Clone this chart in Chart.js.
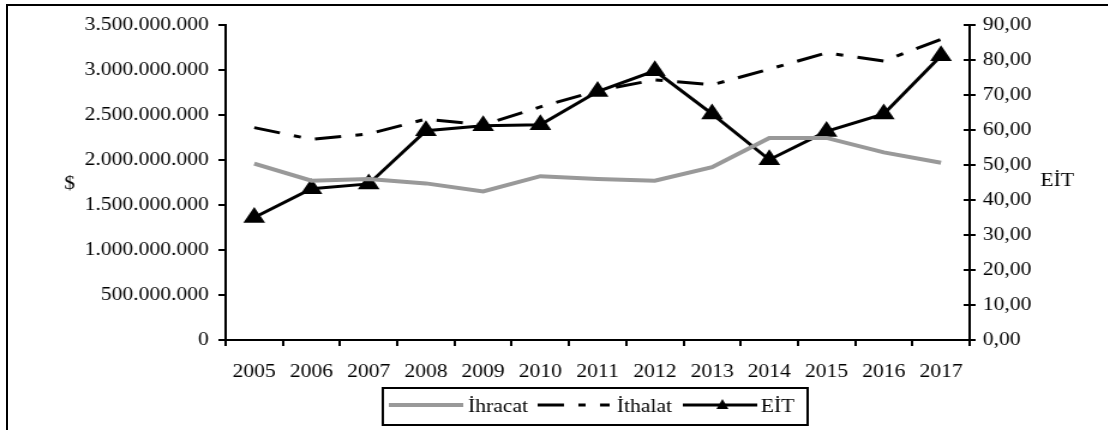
<!DOCTYPE html>
<html>
<head>
<meta charset="utf-8">
<script src="https://cdn.jsdelivr.net/npm/chart.js@4"></script>
<style>
	html, body { margin: 0; padding: 0; background: #fff; overflow: hidden; }
	#frame { position: absolute; left: 6px; top: 4px; width: 1200px; height: 500px;
		border-top: 2px solid #000; border-left: 2px solid #000; }
	#chart { position: absolute; left: 0; top: 0; transform: scaleX(1.2); transform-origin: 0 0; }
</style>
</head>
<body>
<div id="frame"></div>
<canvas id="chart" width="923" height="430"></canvas>
<script>
const years = ['2005', '2006', '2007', '2008', '2009', '2010', '2011', '2012', '2013', '2014', '2015', '2016', '2017'];
const ihracat = [1960000000, 1770000000, 1790000000, 1740000000, 1650000000, 1820000000, 1790000000, 1770000000, 1920000000, 2245000000, 2245000000, 2085000000, 1970000000];
const ithalat = [2360000000, 2230000000, 2290000000, 2455000000, 2390000000, 2590000000, 2770000000, 2890000000, 2835000000, 3010000000, 3190000000, 3100000000, 3340000000];
const eit = [35.0, 43.2, 44.6, 59.8, 61.2, 61.5, 71.0, 76.9, 64.6, 51.5, 59.6, 64.6, 81.2];

const FONT = "'Liberation Serif', 'Times New Roman', serif";
const DASH = [22, 12, 6, 12];

function dotted(v){
	return String(v).replace(/\B(?=(\d{3})+(?!\d))/g, '.');
}

// titles, crossing ticks on the right axis and the boxed legend
const extras = {
	id: 'extras',
	afterDraw(chart){
		const ctx = chart.ctx;
		const yr = chart.scales.y1;
		ctx.save();
		ctx.strokeStyle = '#000';
		ctx.lineWidth = 2;
		ctx.beginPath();
		yr.ticks.forEach(function(t){
			const py = yr.getPixelForValue(t.value);
			ctx.moveTo(yr.left - 5, py);
			ctx.lineTo(yr.left, py);
		});
		ctx.stroke();

		ctx.fillStyle = '#000';
		ctx.font = '18px ' + FONT;
		ctx.textBaseline = 'middle';
		ctx.textAlign = 'center';
		ctx.fillText('$', 58, 184);
		ctx.fillText('EİT', 881, 181);

		// legend
		ctx.lineWidth = 2;
		ctx.strokeRect(319, 388, 354, 37);
		ctx.textAlign = 'left';
		ctx.textBaseline = 'alphabetic';
		const ly = 405;
		const ds = chart.data.datasets;

		ctx.strokeStyle = ds[0].borderColor;
		ctx.lineWidth = ds[0].borderWidth;
		ctx.beginPath(); ctx.moveTo(324, ly); ctx.lineTo(386, ly); ctx.stroke();
		ctx.fillText(ds[0].label, 390, 412);

		ctx.strokeStyle = ds[1].borderColor;
		ctx.lineWidth = ds[1].borderWidth;
		ctx.setLineDash(DASH);
		ctx.beginPath(); ctx.moveTo(448, ly); ctx.lineTo(508, ly); ctx.stroke();
		ctx.setLineDash([]);
		ctx.fillText(ds[1].label, 514, 412);

		ctx.strokeStyle = ds[2].borderColor;
		ctx.lineWidth = ds[2].borderWidth;
		ctx.beginPath(); ctx.moveTo(569, ly); ctx.lineTo(631, ly); ctx.stroke();
		ctx.beginPath();
		ctx.moveTo(602, ly - 6);
		ctx.lineTo(607, ly + 4);
		ctx.lineTo(597, ly + 4);
		ctx.closePath();
		ctx.fill();
		ctx.fillText(ds[2].label, 634, 412);
		ctx.restore();
	}
};

const ctx = document.getElementById('chart').getContext('2d');
const config = {
	type: 'line',
	data: {
		labels: years,
		datasets: [{
			label: 'İhracat',
			data: ihracat,
			borderColor: '#999999',
			backgroundColor: '#999999',
			borderWidth: 4,
			pointRadius: 0,
			yAxisID: 'y',
			tension: 0
		},
		{
			label: 'İthalat',
			data: ithalat,
			borderColor: '#000',
			backgroundColor: '#000',
			borderWidth: 3,
			borderDash: DASH,
			pointRadius: 0,
			yAxisID: 'y',
			tension: 0
		},
		{
			label: 'EİT',
			data: eit,
			borderColor: '#000',
			backgroundColor: '#000',
			borderWidth: 3,
			pointStyle: 'triangle',
			pointRadius: 10.5,
			pointBorderWidth: 0,
			yAxisID: 'y1',
			tension: 0
		}]
	},
	options: {
		responsive: false,
		animation: false,
		layout: { padding: { top: 25, bottom: 0, left: 0, right: 0 } },
		plugins: {
			legend: { display: false },
			tooltip: { enabled: false }
		},
		scales: {
			x: {
				offset: true,
				grid: { offset: true, drawOnChartArea: false, color: '#000', lineWidth: 2, tickLength: 6 },
				border: { color: '#000', width: 2 },
				ticks: { color: '#000', font: { family: FONT, size: 18 }, padding: 15, maxRotation: 0 },
				afterFit: function(s){ s.height = 90; }
			},
			y: {
				position: 'left',
				min: 0,
				max: 3500000000,
				grid: { drawOnChartArea: false, color: '#000', lineWidth: 2, tickLength: 6 },
				border: { color: '#000', width: 2 },
				ticks: { stepSize: 500000000, color: '#000', font: { family: FONT, size: 18 }, padding: 8,
					callback: function(v){ return dotted(v); } },
				afterFit: function(s){ s.width = 188; }
			},
			y1: {
				position: 'right',
				min: 0,
				max: 90,
				grid: { drawOnChartArea: false, color: '#000', lineWidth: 2, tickLength: 5 },
				border: { color: '#000', width: 2 },
				ticks: { stepSize: 10, color: '#000', font: { family: FONT, size: 18 }, padding: 6,
					callback: function(v){ return v.toFixed(2).replace('.', ','); } },
				afterFit: function(s){ s.width = 115; }
			}
		}
	},
	plugins: [extras]
};
const chart = new Chart(ctx, config);
</script>
</body>
</html>
